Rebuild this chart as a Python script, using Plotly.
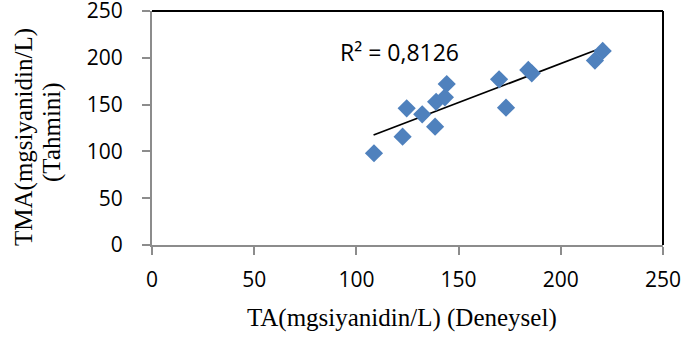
import plotly.graph_objects as go

ta_deneysel = [108.6, 122.6, 124.6, 132.2, 138.5, 139.0, 143.3, 144.2, 169.8, 173.2, 184.1, 185.8, 216.7, 220.5]
tma_tahmini = [98.0, 115.7, 146.0, 139.6, 126.4, 153.0, 157.8, 172.0, 177.0, 146.7, 187.0, 183.4, 197.0, 207.3]
trend_x = [108.4, 220.5]
trend_y = [117.5, 211.0]
x_ticks = [0, 50, 100, 150, 200, 250]
y_ticks = [0, 50, 100, 150, 200, 250]
r2_label = "R² = 0,8126"
x_title = "TA(mgsiyanidin/L) (Deneysel)"
y_title_lines = ["TMA(mgsiyanidin/L)", "(Tahmini)"]

fig = go.Figure()
fig.add_trace(go.Scatter(x=trend_x, y=trend_y, mode="lines", line=dict(color="black", width=1.8),
                         showlegend=False, hoverinfo="skip"))
fig.add_trace(go.Scatter(x=ta_deneysel, y=tma_tahmini, mode="markers",
                         marker=dict(symbol="diamond", size=14, color="#4F81BD", line=dict(width=0)),
                         showlegend=False))

tickfont = dict(family="Open Sans, Liberation Sans, sans-serif", size=21, color="black")
titlefont = dict(family="Liberation Serif, Times New Roman, serif", size=25, color="black")

fig.update_xaxes(range=[0, 250], tickvals=x_ticks, showgrid=False, zeroline=False,
                 showline=True, linecolor="#8c8c8c", linewidth=2, automargin=False,
                 ticks="outside", ticklen=8, tickcolor="#8c8c8c", tickwidth=2,
                 tickfont=tickfont, ticklabelstandoff=7, ticklabeloverflow="allow")
fig.update_yaxes(range=[0, 250], tickvals=y_ticks, showgrid=False, zeroline=False,
                 showline=True, linecolor="#8c8c8c", linewidth=2, automargin=False,
                 ticks="outside", ticklen=8, tickcolor="#8c8c8c", tickwidth=2,
                 tickfont=tickfont, ticklabelstandoff=15, ticklabeloverflow="allow")

fig.add_shape(type="line", xref="paper", yref="paper", x0=0, x1=1, y0=1, y1=1,
              line=dict(color="black", width=2))
fig.add_shape(type="line", xref="paper", yref="paper", x0=1, x1=1, y0=0, y1=1,
              line=dict(color="black", width=2))

fig.add_annotation(x=121.3, y=206, xref="x", yref="y", text=r2_label, showarrow=False,
                   font=dict(family="Open Sans, Liberation Sans, sans-serif", size=23, color="black"))

# axis titles
fig.add_annotation(x=0.49, y=-0.31, xref="paper", yref="paper", text=x_title, showarrow=False,
                   xanchor="center", yanchor="middle", font=titlefont)
fig.add_annotation(x=-0.2505, y=0.4615, xref="paper", yref="paper", text=y_title_lines[0],
                   showarrow=False, textangle=-90, xanchor="center", yanchor="middle", font=titlefont)
fig.add_annotation(x=-0.1957, y=0.483, xref="paper", yref="paper", text=y_title_lines[1],
                   showarrow=False, textangle=-90, xanchor="center", yanchor="middle", font=titlefont)

fig.update_layout(width=687, height=347, margin=dict(l=152, r=24, t=11, b=102),
                  plot_bgcolor="white", paper_bgcolor="white")

fig.write_html("out.html")
